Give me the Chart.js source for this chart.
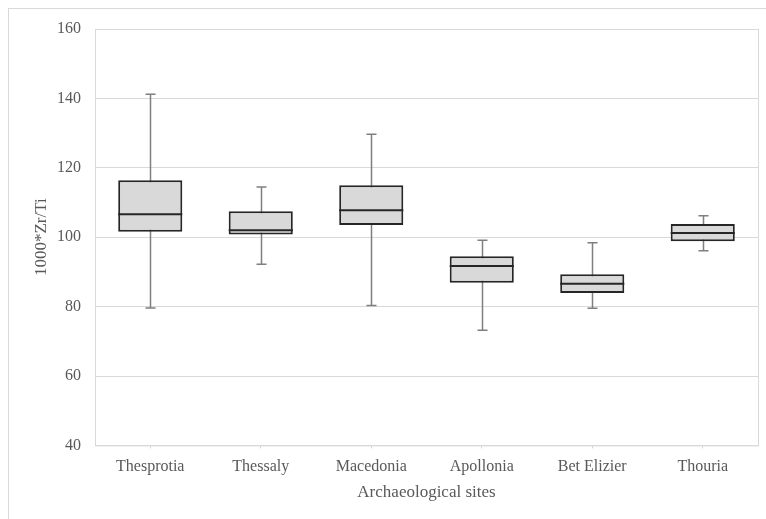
<!DOCTYPE html>
<html>
<head>
<meta charset="utf-8">
<script src="https://cdn.jsdelivr.net/npm/chart.js@4"></script>
<style>
  html, body { margin: 0; padding: 0; background: #fff; }
  #wrap { position: relative; width: 766px; height: 519px; overflow: hidden; }
  #frame { position: absolute; left: 8px; top: 8px; width: 800px; height: 600px; border: 1px solid #d9d9d9; }
  #box { position: absolute; left: 0; top: 0; width: 766px; height: 519px; }
</style>
</head>
<body>
<div id="wrap">
  <div id="frame"></div>
  <div id="box"><canvas id="myChart"></canvas></div>
</div>
<script>
// sites and box plot stats
const sites = ['Thesprotia', 'Thessaly', 'Macedonia', 'Apollonia', 'Bet Elizier', 'Thouria'];
const minVals = [79.6, 92.2, 80.3, 73.2, 79.5, 96.1];
const q1Vals = [101.6, 100.8, 103.5, 86.9, 83.9, 98.8];
const medianVals = [106.6, 102.0, 107.8, 91.7, 86.6, 101.2];
const q3Vals = [116.4, 107.5, 115.0, 94.5, 89.3, 103.8];
const maxVals = [141.2, 114.5, 129.7, 99.1, 98.4, 106.2];
const yTicks = [40, 60, 80, 100, 120, 140, 160];

const serif = "'Liberation Serif', 'DejaVu Serif', serif";
const ctx = document.getElementById('myChart').getContext('2d');

// whiskers under the boxes, medians on top
const boxPlotLines = {
  id: 'boxPlotLines',
  beforeDatasetsDraw(chart) {
    const { ctx, scales: { x, y }, chartArea } = chart;
    ctx.save();
    ctx.strokeStyle = '#d9d9d9';
    ctx.lineWidth = 1;
    ctx.strokeRect(chartArea.left + 0.5, chartArea.top + 0.5, chartArea.right - chartArea.left, chartArea.bottom - chartArea.top);
    ctx.strokeStyle = '#7f7f7f';
    ctx.lineWidth = 1.5;
    sites.forEach((s, i) => {
      const cx = Math.round(x.getPixelForValue(i)) + 0.5;
      const top = y.getPixelForValue(maxVals[i]);
      const bot = y.getPixelForValue(minVals[i]);
      ctx.beginPath();
      ctx.moveTo(cx, top);
      ctx.lineTo(cx, bot);
      ctx.moveTo(cx - 5, top);
      ctx.lineTo(cx + 5, top);
      ctx.moveTo(cx - 5, bot);
      ctx.lineTo(cx + 5, bot);
      ctx.stroke();
    });
    ctx.restore();
  },
  afterDatasetsDraw(chart) {
    const { ctx, scales: { y } } = chart;
    const meta = chart.getDatasetMeta(0);
    ctx.save();
    ctx.strokeStyle = '#262626';
    ctx.lineWidth = 2;
    meta.data.forEach((bar, i) => {
      const half = bar.width / 2;
      const my = y.getPixelForValue(medianVals[i]);
      ctx.beginPath();
      ctx.moveTo(bar.x - half, my);
      ctx.lineTo(bar.x + half, my);
      ctx.stroke();
    });
    ctx.restore();
  }
};

const data = {
  labels: sites,
  datasets: [{
    label: 'IQR',
    data: sites.map((s, i) => [q1Vals[i], q3Vals[i]]),
    backgroundColor: '#d9d9d9',
    borderColor: '#262626',
    borderWidth: 2,
    borderSkipped: false,
    categoryPercentage: 1,
    barPercentage: 0.58,
  }],
};

const config = {
  type: 'bar',
  data: data,
  plugins: [boxPlotLines],
  options: {
    responsive: true,
    maintainAspectRatio: false,
    animation: false,
    layout: { padding: { left: 31, top: 29, right: 8, bottom: 16 } },
    plugins: { legend: { display: false }, tooltip: { enabled: false } },
    scales: {
      x: {
        grid: { display: true, drawOnChartArea: false, offset: false, tickLength: 3, color: '#d9d9d9' },
        border: { color: '#d9d9d9' },
        ticks: { color: '#595959', font: { family: serif, size: 16 }, padding: 9, maxRotation: 0 },
        title: { display: true, text: 'Archaeological sites', color: '#595959', font: { family: serif, size: 17 }, padding: { top: -3, bottom: 0 } },
      },
      y: {
        min: 40,
        max: 160,
        afterBuildTicks: (scale) => { scale.ticks = yTicks.map(v => ({ value: v })); },
        afterFit: (scale) => { scale.width = 95 - 31; },
        grid: { color: '#d9d9d9', drawTicks: false },
        border: { color: '#d9d9d9' },
        ticks: { color: '#595959', font: { family: serif, size: 16 }, padding: 14 },
        title: { display: true, text: '1000*Zr/Ti', color: '#595959', font: { family: serif, size: 17 }, padding: 0 },
      },
    },
  },
};

new Chart(ctx, config);
</script>
</body>
</html>
